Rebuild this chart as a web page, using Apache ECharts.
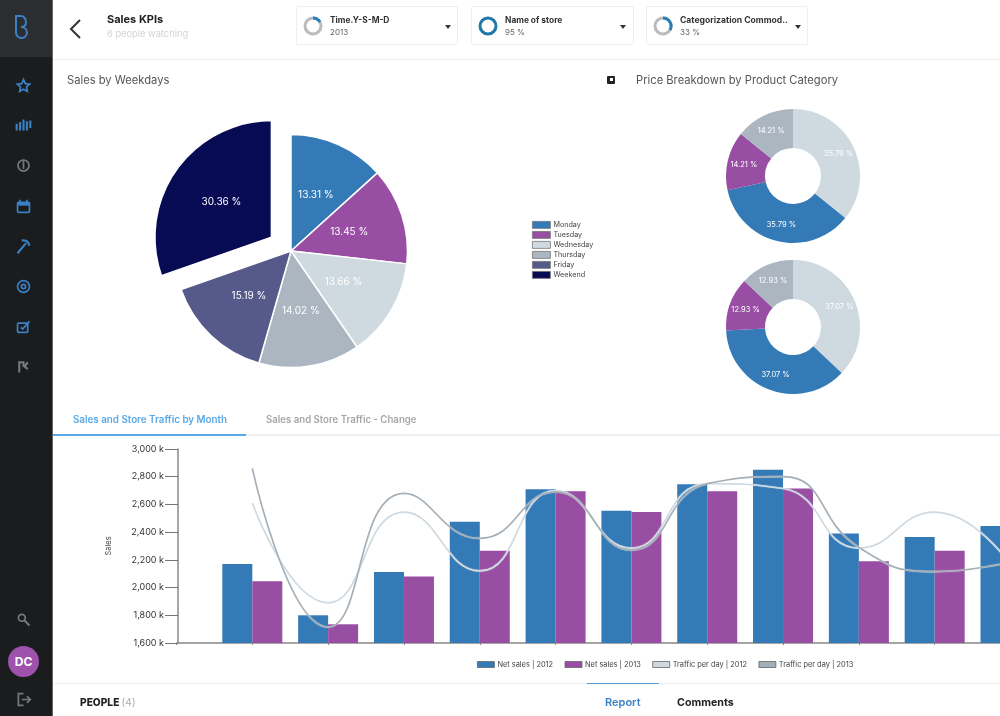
<!DOCTYPE html>
<html><head><meta charset="utf-8">
<script src="https://cdn.jsdelivr.net/npm/echarts@6/dist/echarts.min.js"></script>
<style>
html,body{margin:0;padding:0;width:1000px;height:716px;overflow:hidden;background:#fff;font-family:Inter,"Open Sans",sans-serif}
#page{position:relative;width:1000px;height:716px;overflow:hidden;filter:blur(.5px)}
#chart{position:absolute;left:0;top:0;width:1000px;height:716px}
.t{position:absolute;white-space:nowrap;line-height:1}
.r{position:absolute;background:#eceef0}
#side{position:absolute;left:0;top:0;width:53px;height:716px;background:#1b1c1e;border-right:1px solid #666;box-sizing:border-box}
#logo{position:absolute;left:0;top:0;width:52px;height:57px;background:#2c2d30}
.ic{position:absolute;left:15px;width:17px;height:17px;fill:none;stroke:#3a80c4;stroke-width:2}
.gr{stroke:#77787a}
.box{position:absolute;top:6px;height:39px;border:1px solid #eeeff1;border-radius:2px;box-sizing:border-box;background:#fff}
.ring{position:absolute;left:6px;top:9px;width:20px;height:20px}
.caret{position:absolute;top:18px;width:0;height:0;border-left:3px solid transparent;border-right:3px solid transparent;border-top:4px solid #333}
.bt{position:absolute;left:33px;top:8px;font-size:8.400px;font-weight:700;color:#333;white-space:nowrap}
.bv{position:absolute;left:33px;top:20px;font-size:8px;color:#666;white-space:nowrap}
</style></head><body>
<div id="page">
<div id="chart"></div>

<div id="side">
 <div id="logo"><svg style="position:absolute;left:13px;top:13px" width="20" height="26" viewBox="0 0 20 26" fill="none" stroke="#3a80c4" stroke-width="2"><path d="M3 2v17a5.500 5.500 0 0 0 11 1c0-3-2-6-6-6 3 0 5-2 5-5s-2-6-5-6H3"/></svg></div>
 <svg class="ic" style="top:77px" viewBox="0 0 20 20"><path d="M10 3l2.200 4.800 5 .6-3.700 3.400 1 5-4.500-2.500-4.500 2.500 1-5-3.700-3.400 5-.6z"/></svg>
 <svg class="ic" style="top:117px" viewBox="0 0 20 20"><path d="M2 8v8M6 6v10M10 3v13M14 5v11M18 4v9" stroke-width="2.500"/></svg>
 <svg class="ic gr" style="top:157px" viewBox="0 0 20 20"><circle cx="10" cy="10" r="6.500"/><path d="M10 3v11"/></svg>
 <svg class="ic" style="top:198px" viewBox="0 0 20 20"><rect x="3" y="5" width="14" height="12" rx="1"/><path d="M3 7h14" stroke-width="4"/><path d="M6 2v3M14 2v3"/></svg>
 <svg class="ic" style="top:238px" viewBox="0 0 20 20"><path d="M3 18L13 6M8 3c5-1 8 2 9 6" stroke-width="2.500"/></svg>
 <svg class="ic" style="top:278px" viewBox="0 0 20 20"><circle cx="10" cy="10" r="7"/><circle cx="10" cy="10" r="2.500"/></svg>
 <svg class="ic" style="top:318px" viewBox="0 0 20 20"><rect x="3" y="6" width="12" height="11" rx="1"/><path d="M7 11l2 2 8-9"/></svg>
 <svg class="ic gr" style="top:358px" viewBox="0 0 20 20"><path d="M5 17V5h5v4h2l3-4M10 9l5 4" stroke-width="2.500"/></svg>
 <svg class="ic gr" style="top:611px" viewBox="0 0 20 20"><circle cx="8" cy="8" r="4"/><path d="M11 11l6 6" stroke-width="2.500"/></svg>
 <div style="position:absolute;left:8px;top:646px;width:31px;height:31px;border-radius:50%;background:#9e52ab;color:#fff;font-size:12px;font-weight:700;text-align:center;line-height:31px">DC</div>
 <svg class="ic gr" style="top:691px" viewBox="0 0 20 20"><path d="M10 3H4v14h6M8 10h10M14 6l4 4-4 4"/></svg>
</div>

<svg style="position:absolute;left:68px;top:18px" width="14" height="22" viewBox="0 0 14 22" fill="none" stroke="#333" stroke-width="2"><path d="M12 2L3 11l9 9"/></svg>
<div class="t" style="left:107px;top:14px;font-size:11px;font-weight:700;color:#222">Sales KPIs</div>
<div class="t" style="left:107px;top:29px;font-size:9.300px;color:#cfd2d5">6 people watching</div>

<div class="box" style="left:296px;width:162px"><svg class="ring" viewBox="0 0 20 20" fill="none" stroke-width="3"><circle cx="10" cy="10" r="8" stroke="#b9bcbf"/><path d="M10 2a8 8 0 0 1 7 4" stroke="#2a7fb8"/></svg><div class="bt">Time.Y-S-M-D</div><div class="bv">2013</div><div class="caret" style="left:148px"></div></div>
<div class="box" style="left:471px;width:163px"><svg class="ring" viewBox="0 0 20 20" fill="none" stroke-width="3"><circle cx="10" cy="10" r="8" stroke="#1f78a8"/></svg><div class="bt">Name of store</div><div class="bv">95 %</div><div class="caret" style="left:148px"></div></div>
<div class="box" style="left:646px;width:162px"><svg class="ring" viewBox="0 0 20 20" fill="none" stroke-width="3"><circle cx="10" cy="10" r="8" stroke="#b9bcbf"/><path d="M10 2a8 8 0 0 1 7 12" stroke="#2a7fb8"/></svg><div class="bt" style="font-size:8.600px">Categorization Commod..</div><div class="bv">33 %</div><div class="caret" style="left:148px"></div></div>

<div class="r" style="left:54px;top:59px;width:946px;height:1px"></div>
<div class="t" style="left:67px;top:75px;font-size:11.200px;color:#555">Sales by Weekdays</div>
<div style="position:absolute;left:607px;top:76px;width:8px;height:8px;background:#222;border-radius:1px"><div style="position:absolute;left:3px;top:2px;width:3px;height:3px;background:#fff"></div></div>
<div class="t" style="left:636px;top:75px;font-size:11.200px;color:#555">Price Breakdown by Product Category</div>

<div class="r" style="left:54px;top:434px;width:946px;height:2px"></div>
<div style="position:absolute;left:53px;top:434px;width:193px;height:2px;background:#5aa9e6"></div>
<div class="t" style="left:73px;top:415px;font-size:9.800px;font-weight:600;color:#5aa9e6">Sales and Store Traffic by Month</div>
<div class="t" style="left:266px;top:415px;font-size:9.650px;font-weight:600;color:#a4a6a8">Sales and Store Traffic - Change</div>

<div class="r" style="left:54px;top:683px;width:946px;height:1px"></div>
<div style="position:absolute;left:587px;top:683px;width:72px;height:1px;background:#5b9bd0"></div>
<div class="t" style="left:80px;top:697px;font-size:10.200px;font-weight:800;color:#222">PEOPLE <span style="font-weight:400;color:#aaa">(4)</span></div>
<div class="t" style="left:605px;top:697px;font-size:11px;font-weight:600;color:#3a80c4">Report</div>
<div class="t" style="left:677px;top:698px;font-size:10.700px;font-weight:700;color:#222">Comments</div>
</div>

<script>
const weekdays = ['Monday','Tuesday','Wednesday','Thursday','Friday','Weekend'];
const weekdayShares = [13.31,13.45,13.66,14.02,15.19,30.36];
const weekdayColors = ['#337ab7','#984ea3','#cfd9e0','#abb6c0','#565a8a','#070b53'];

const priceCategories = ['Category 1','Category 2','Category 3','Category 4'];
const priceSharesTop = [35.79,35.79,14.21,14.21];
const priceSharesBottom = [37.07,37.07,12.93,12.93];
const priceColors = ['#cfd9e0','#337ab7','#984ea3','#abb6c0'];

const months = ['','Jan','Feb','Mar','Apr','May','Jun','Jul','Aug','Sep','Oct','Nov'];
const netSales2012 = [null,2170,1800,2112,2475,2710,2555,2745,2850,2390,2365,2445];
const netSales2013 = [null,2045,1735,2080,2265,2695,2545,2695,2715,2190,2265,2300];
const traffic2012 = [null,2610,1890,2545,2120,2700,2285,2750,2715,2285,2545,2165];
const traffic2013 = [null,2860,1715,2680,2355,2690,2270,2750,2800,2290,2115,2185];

const font = 'Inter, "Open Sans", sans-serif';
const pieData = (names, vals, cols, sel) => names.map((n,i)=>({name:n,value:vals[i],selected:sel===i,itemStyle:{color:cols[i]}}));
const pct = p => p.value.toFixed(2)+' %';
const donut = (center, vals) => ({
  type:'pie', center, radius:[28,67], startAngle:90, silent:true, animation:false,
  data:pieData(priceCategories, vals, priceColors),
  itemStyle:{borderColor:'#fff',borderWidth:0},
  label:{position:'inside',formatter:pct,color:'#fff',fontSize:7.5,fontFamily:font},
  labelLine:{show:false}
});
const chart = echarts.init(document.getElementById('chart'),null,{renderer:'canvas'});
chart.setOption({
  animation:false,
  backgroundColor:'transparent',
  legend:[
    {data:weekdays,orient:'vertical',left:532,top:221,padding:0,itemWidth:18,itemHeight:7,itemGap:2.200,icon:'rect',
     itemStyle:{borderColor:'#777',borderWidth:.8},selectedMode:false,
     textStyle:{fontSize:7.200,lineHeight:7,color:'#444',fontFamily:font,padding:[0,0,0,-2]}},
    {data:['Net sales | 2012','Net sales | 2013','Traffic per day | 2012','Traffic per day | 2013'],
     orient:'horizontal',left:477,top:661,padding:0,itemWidth:17,itemHeight:6,itemGap:11.500,icon:'rect',selectedMode:false,
     itemStyle:{borderColor:'#666',borderWidth:.8},
     textStyle:{fontSize:7.4,lineHeight:7,color:'#444',fontFamily:font,padding:[0,0,0,-2]}}
  ],
  grid:{left:176.5,top:449,width:834,height:194,containLabel:false,outerBoundsMode:'none'},
  xAxis:{type:'category',data:months,boundaryGap:false,
    axisLine:{lineStyle:{color:'#888',width:1.500}},
    axisTick:{length:2,lineStyle:{color:'#888'}},
    axisLabel:{show:false},splitLine:{show:false}},
  yAxis:{type:'value',min:1600,max:3000,interval:200,offset:-1.5,
    name:'Sales',nameLocation:'middle',nameGap:65,nameRotate:90,
    nameTextStyle:{fontSize:7.5,color:'#444',fontFamily:font},
    axisLine:{show:true,lineStyle:{color:'#888',width:1.500}},
    axisTick:{show:true,length:13,lineStyle:{color:'#777',width:1}},
    axisLabel:{margin:14,fontSize:9,color:'#333',fontFamily:font,
      formatter:v=>v.toLocaleString('en-US')+' k'},
    splitLine:{show:false}},
  series:[
    {type:'pie',name:'Sales by Weekdays',center:[291,251],radius:[0,116.500],startAngle:90,
     selectedMode:'multiple',selectedOffset:24,silent:true,
     data:pieData(weekdays,weekdayShares,weekdayColors,5),
     itemStyle:{borderColor:'#fff',borderWidth:1.500},
     label:{position:'inside',formatter:pct,color:'#fff',fontSize:10,fontFamily:font},
     labelLine:{show:false}},
    donut([793,176],priceSharesTop),
    donut([793,327],priceSharesBottom),
    {type:'bar',name:'Net sales | 2012',data:netSales2012,barWidth:30,barGap:0,itemStyle:{color:'#337ab7'},z:2},
    {type:'bar',name:'Net sales | 2013',data:netSales2013,barWidth:30,barGap:0,itemStyle:{color:'#984ea3'},z:2},
    {type:'line',name:'Traffic per day | 2012',data:traffic2012,smooth:.5,showSymbol:false,z:3,
     itemStyle:{color:'#cfd9e0'},lineStyle:{color:'#cfd9e0',width:1.700,shadowColor:'rgba(255,255,255,.7)',shadowBlur:1}},
    {type:'line',name:'Traffic per day | 2013',data:traffic2013,smooth:.5,showSymbol:false,z:4,
     itemStyle:{color:'#a5afb7'},lineStyle:{color:'#a5afb7',width:1.700,shadowColor:'rgba(255,255,255,.7)',shadowBlur:1}}
  ]
});
</script>
</body></html>
